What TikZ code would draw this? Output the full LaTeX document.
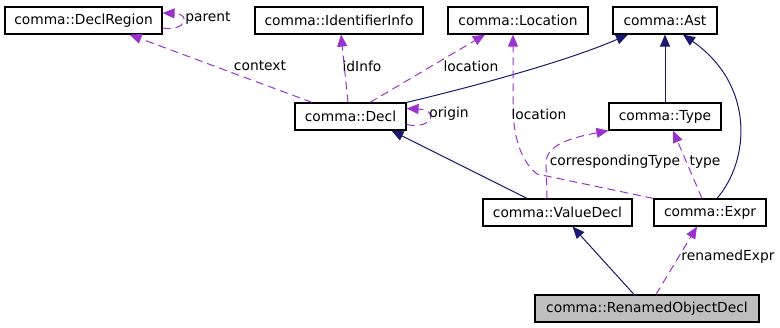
\documentclass[tikz,border=0pt]{standalone}
\usepackage{fontspec}
\setmainfont{DejaVu Sans}
\usetikzlibrary{arrows.meta}
\definecolor{navy}{HTML}{191970}
\definecolor{purp}{HTML}{9A32CD}
\definecolor{grayfill}{HTML}{BFBFBF}
\tikzset{
  cls/.style={draw=black, line width=1.2pt, minimum height=27pt, inner sep=0pt, font=\fontsize{13.8}{15}\selectfont, fill=white},
  inh/.style={draw=navy, line width=1pt, -{Triangle[length=12pt,width=10pt]}},
  dep/.style={draw=purp, line width=1pt, dash pattern=on 8pt off 5pt, -{Triangle[length=12pt,width=10pt]}, color=purp},
  lbl/.style={font=\fontsize{13.8}{15}\selectfont, inner sep=0pt}
}
\begin{document}
\begin{tikzpicture}[x=1pt,y=-1pt]
\useasboundingbox (0,0) rectangle (780,328);
\node[cls, minimum width=157pt] (dr) at (83.5,20.5) {comma::DeclRegion};
\node[cls, minimum width=168pt] (ii) at (339,20.5) {comma::IdentifierInfo};
\node[cls, minimum width=140pt] (loc) at (518,20.5) {comma::Location};
\node[cls, minimum width=104pt] (ast) at (665,20.5) {comma::Ast};
\node[cls, minimum width=111pt] (decl) at (350.5,116.5) {comma::Decl};
\node[cls, minimum width=112pt] (type) at (665,116.5) {comma::Type};
\node[cls, minimum width=149pt] (vd) at (557.5,212.5) {comma::ValueDecl};
\node[cls, minimum width=112pt] (expr) at (710,212.5) {comma::Expr};
\node[cls, minimum width=224pt, fill=grayfill] (rod) at (647,308.5) {comma::RenamedObjectDecl};

% inheritance
\draw[inh] (decl.north east) .. controls (480,85) and (570,60) .. ([xshift=-37pt]ast.south);
\draw[inh] (type.north) -- (ast.south);
\draw[inh] ([xshift=7pt]expr.north) .. controls (750,160) and (755,85) .. ([xshift=18pt]ast.south);
\draw[inh] ([xshift=-30.5pt]vd.north) -- ([xshift=41pt]decl.south);
\draw[inh] ([xshift=-13pt]rod.north) -- ([xshift=15pt]vd.south);

% dependencies
\draw[dep] ([xshift=-38.5pt]decl.north) -- ([xshift=46pt]dr.south);
\draw[dep] ([yshift=-7.5pt]dr.east) .. controls (185,32) and (192,14) .. ([yshift=7.5pt]dr.east);
\draw[dep] ([xshift=-2.5pt]decl.north) -- ([xshift=2pt]ii.south);
\draw[dep] ([xshift=19.5pt]decl.north) -- ([xshift=-33pt]loc.south);
\draw[dep] ([yshift=-8pt]decl.east) .. controls (432,130) and (440,110) .. ([yshift=8pt]decl.east);
\draw[dep] (expr.north west) -- (537,174) .. controls (522,162) and (514,140) .. (513,110) -- ([xshift=-5pt]loc.south);
\draw[dep] ([xshift=-10.5pt]vd.north) -- (546,162) .. controls (547,145) and (570,138) .. (type.south west);
\draw[dep] ([xshift=-8pt]expr.north) -- ([xshift=8pt]type.south);
\draw[dep] ([xshift=9pt]rod.north) -- ([xshift=-13pt]expr.south);

% labels
\node[lbl] (lcontext) at (260,66) {context};
\node[lbl] (lparent) at (208,18) {parent};
\node[lbl] (lidinfo) at (362,66) {idInfo};
\node[lbl] (lloc1) at (471,66) {location};
\node[lbl] (lorigin) at (449,114) {origin};
\node[lbl] (lloc2) at (539,114) {location};
\node[lbl] (lct) at (615,162) {correspondingType};
\node[lbl] (ltype) at (705,162) {type};
\node[lbl] (lre) at (728,257) {renamedExpr};
\end{tikzpicture}
\end{document}
